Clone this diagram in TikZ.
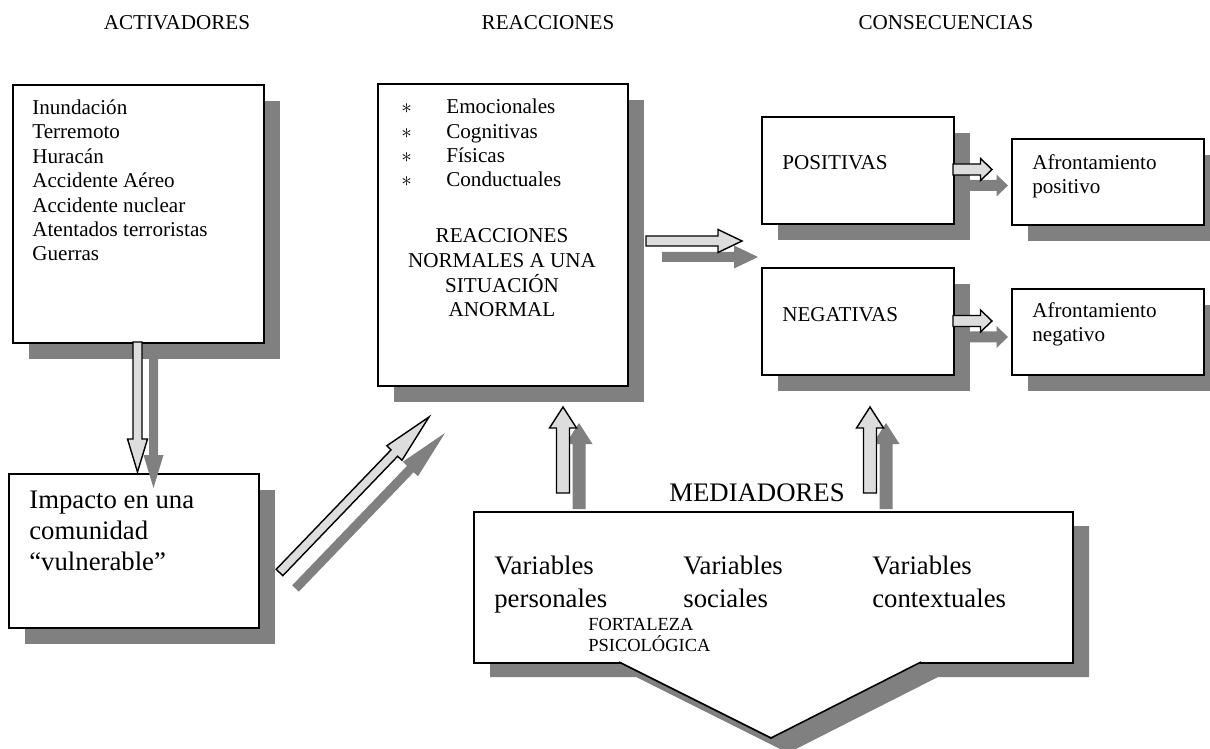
\documentclass[tikz,border=0pt]{standalone}
\usepackage{fontspec}
\setmainfont{Liberation Serif}
\usetikzlibrary{calc}

\definecolor{shade}{HTML}{808080}
\definecolor{arrowfill}{HTML}{DDDDDD}

\tikzset{
  shadowfill/.style={fill=shade, draw=none},
  boxstyle/.style={draw=black, fill=white, line width=0.9pt, inner sep=0pt},
  arrowbody/.style={draw=black, fill=arrowfill, line width=0.8pt, line join=miter},
  heading/.style={inner sep=0pt, font=\fontsize{12}{13.9}\selectfont},
  txt/.style={inner sep=0pt, align=left, font=\fontsize{12}{13.9}\selectfont},
  bigtxt/.style={inner sep=0pt, align=left, font=\fontsize{15.2}{17.6}\selectfont},
  vartxt/.style={inner sep=0pt, align=left, font=\fontsize{15.2}{18.2}\selectfont},
  smalltxt/.style={inner sep=0pt, align=left, font=\fontsize{10.5}{11.9}\selectfont},
}

% box with a drop shadow: name, left, top, right, bottom (pixel units)
\newcommand\boxnode[5]{%
  \fill[shadowfill] (#2+17,#3+17) rectangle (#4+17,#5+17);
  \node[boxstyle, anchor=north west,
        minimum width={(#4-#2)*0.5685pt}, minimum height={(#5-#3)*0.5685pt}]
        (#1) at (#2,#3) {};}

% block arrow outline: tail, tip, shaft half-width, head half-width, head length, style
\newcommand\arrowpoly[6]{%
  \pgfmathsetlengthmacro\arW{#3*0.5685}%
  \pgfmathsetlengthmacro\arH{#4*0.5685}%
  \pgfmathsetlengthmacro\arL{#5*0.5685}%
  \path ($(#2)!\arL!(#1)$) coordinate (abase);
  \path[#6] ($(#1)!\arW!90:(#2)$) -- ($(abase)!\arW!90:(#2)$)
    -- ($(abase)!\arH!90:(#2)$) -- (#2) -- ($(abase)!\arH!-90:(#2)$)
    -- ($(abase)!\arW!-90:(#2)$) -- ($(#1)!\arW!-90:(#2)$) -- cycle;}

% block arrow with its shadow
\newcommand\blockarrow[5]{%
  \path ($(#1)+(16,16)$) coordinate (stail) ($(#2)+(16,16)$) coordinate (stip);
  \arrowpoly{stail}{stip}{#3}{#4}{#5}{shadowfill}
  \arrowpoly{#1}{#2}{#3}{#4}{#5}{arrowbody}}

\begin{document}
\begin{tikzpicture}[x=0.5685pt, y=-0.5685pt]
\useasboundingbox (0,0) rectangle (1210,749);

% column headings
\node[heading, anchor=base] (hact) at (177,30) {ACTIVADORES};
\node[heading, anchor=base] (hrea) at (548,30) {REACCIONES};
\node[heading, anchor=base] (hcon) at (946,30) {CONSECUENCIAS};

% boxes
\boxnode{act}{12}{84}{263}{342}
\boxnode{imp}{8}{473}{258}{627}
\boxnode{rea}{377}{83}{627}{385}
\boxnode{pos}{761}{116}{953}{223}
\boxnode{neg}{761}{267}{953}{374}
\boxnode{afp}{1011}{138}{1203}{224}
\boxnode{afn}{1011}{288}{1203}{374}

% mediators: rectangle with a downward wedge
\fill[shadowfill] (490,526) -- (1089,526) -- (1089,677) -- (938,677)
  -- (788,753) -- (636,677) -- (490,677) -- cycle;
\node[boxstyle, anchor=north west, minimum width={599*0.5685pt},
      minimum height={151*0.5685pt}] (med) at (473,511) {};
\coordinate (vl) at (619,662);
\coordinate (vt) at (771,738);
\coordinate (vr) at (921,662);
\fill[white] (vl) -- (vt) -- (vr) -- cycle;
\draw[line width=0.9pt, line join=miter] (vl) -- (vt) -- (vr);

% texts (base anchor = baseline of the last line)
\node[txt, anchor=base west] (actlist) at (32,261)
  {Inundación\\Terremoto\\Huracán\\Accidente Aéreo\\Accidente nuclear\\Atentados terroristas\\Guerras};
\node[txt, anchor=base west] (bul) at (401,187) {$\ast$\\$\ast$\\$\ast$\\$\ast$};
\node[txt, anchor=base west] (realist) at (446,187)
  {Emocionales\\Cognitivas\\Físicas\\Conductuales};
\node[txt, align=center, anchor=base, font=\fontsize{12}{14.2}\selectfont] (reanorm) at (502,317)
  {REACCIONES\\NORMALES A UNA\\SITUACIÓN\\ANORMAL};
\node[txt, anchor=base west] (postxt) at (782,170) {POSITIVAS};
\node[txt, anchor=base west] (negtxt) at (782,322) {NEGATIVAS};
\node[txt, anchor=base west] (afptxt) at (1032,194) {Afrontamiento\\positivo};
\node[txt, anchor=base west] (afntxt) at (1032,342) {Afrontamiento\\negativo};
\node[bigtxt, anchor=base west] (imptxt) at (29,570)
  {Impacto en una\\comunidad\\“vulnerable”};
\node[bigtxt, anchor=base] (medtit) at (757,501) {MEDIADORES};
\node[vartxt, anchor=base west] (vper) at (494,607) {Variables\\personales};
\node[vartxt, anchor=base west] (vsoc) at (683,607) {Variables\\sociales};
\node[vartxt, anchor=base west] (vcon) at (872,607) {Variables\\contextuales};
\node[smalltxt, anchor=base west] (fort) at (588,651) {FORTALEZA\\PSICOLÓGICA};

% arrow end points
\coordinate (d1t) at (137.5,342);
\coordinate (d1p) at (137.5,472);
\coordinate (dgt) at (279.5,572.5);
\coordinate (dgp) at (429,417);
\coordinate (rct) at (646,241);
\coordinate (rcp) at (742,241);
\coordinate (ppt) at (953,169.5);
\coordinate (ppp) at (992,169.5);
\coordinate (nnt) at (953,321);
\coordinate (nnp) at (992,321);
\coordinate (ult) at (563,493);
\coordinate (ulp) at (563,407);
\coordinate (urt) at (870,493);
\coordinate (urp) at (870,407);

% arrows
\blockarrow{d1t}{d1p}{4.5}{10}{33}
\blockarrow{dgt}{dgp}{4.6}{10.5}{50}
\blockarrow{rct}{rcp}{5}{11.5}{24}
\blockarrow{ppt}{ppp}{5.5}{11}{11.5}
\blockarrow{nnt}{nnp}{5.5}{11}{11.5}
\blockarrow{ult}{ulp}{6.5}{13.5}{21}
\blockarrow{urt}{urp}{6.5}{13.5}{21}
\end{tikzpicture}
\end{document}
